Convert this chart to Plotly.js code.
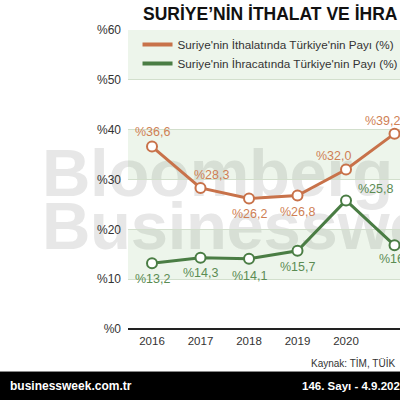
<!DOCTYPE html>
<html>
<head>
<meta charset="utf-8">
<script src="https://cdn.plot.ly/plotly-3.0.1.min.js"></script>
<style>
  html, body { margin:0; padding:0; background:#fff; overflow:hidden; }
  #wrap { position:relative; width:400px; height:400px; overflow:hidden; }
  .wm { position:absolute; left:42px; font-family:"Liberation Sans", Arial, sans-serif; font-weight:bold;
        font-size:67px; line-height:67px; color:#e7e7e7; white-space:nowrap; z-index:0; letter-spacing:-0.3px; }
  #chart { position:absolute; left:0; top:0; z-index:1; }
</style>
</head>
<body>
<div id="wrap">
  <div class="wm" style="top:139px;">Bloomberg</div>
  <div class="wm" style="top:192px;">Businessweek</div>
  <div id="chart"></div>
</div>
<script>
// ---- data ----
const years = [2016, 2017, 2018, 2019, 2020, 2021];
const importShare = [36.6, 28.3, 26.2, 26.8, 32.0, 39.2];
const exportShare = [13.2, 14.3, 14.1, 15.7, 25.8, 16.8];
const importName = "Suriye'nin İthalatında Türkiye'nin Payı (%)";
const exportName = "Suriye'nin İhracatında Türkiye'nin Payı (%)";
const yTicks = [0, 10, 20, 30, 40, 50, 60];
const yTickLabels = ['%0', '%10', '%20', '%30', '%40', '%50', '%60'];
const titleText = "SURİYE’NİN İTHALAT VE İHRA";
const sourceText = "Kaynak: TİM, TÜİK";
const footerLeft = "businessweek.com.tr";
const footerRight = "146. Sayı - 4.9.202";

// ---- style ----
const orange = '#c8724a', orangeText = '#cf7f55';
const green = '#4a7d44', greenText = '#5b8c53';
const fmt = v => '%' + v.toFixed(1).replace('.', ',');

// label offsets (style only)
const impOff = [[0,15],[11,13],[0,-16],[0,-17],[-13,14],[-12,13]];
const expOff = [[0,-16],[0,-15],[0,-17],[0,-16],[29,11],[2,-14]];

const annotations = [];
years.forEach((yr, i) => {
  annotations.push({x: yr, y: importShare[i], xref:'x', yref:'y', text: fmt(importShare[i]), showarrow:false,
    xshift: impOff[i][0], yshift: impOff[i][1], font:{size:12.5, color: orangeText, family:'Liberation Sans, Arial'}});
  annotations.push({x: yr, y: exportShare[i], xref:'x', yref:'y', text: fmt(exportShare[i]), showarrow:false,
    xshift: expOff[i][0], yshift: expOff[i][1], font:{size:12.5, color: greenText, family:'Liberation Sans, Arial'}});
});
// source + footer
annotations.push({xref:'paper', yref:'paper', x:(397-128)/272, y:(329-363)/299, xanchor:'right', yanchor:'middle',
  text: sourceText, showarrow:false, font:{size:10, color:'#333', family:'Liberation Sans, Arial'}});
annotations.push({xref:'paper', yref:'paper', x:(8-128)/272, y:(329-386)/299, xanchor:'left', yanchor:'middle',
  text: '<b>'+footerLeft+'</b>', showarrow:false, font:{size:12, color:'#fff', family:'Liberation Sans, Arial'}});
annotations.push({xref:'paper', yref:'paper', x:(300-128)/272, y:(329-386)/299, xanchor:'left', yanchor:'middle',
  text: '<b>'+footerRight+'</b>', showarrow:false, font:{size:11.5, color:'#fff', family:'Liberation Sans, Arial'}});

const bandFill = 'rgba(95,165,75,0.11)';
const shapes = [[50,60],[30,40],[10,20]].map(b => ({type:'rect', xref:'paper', yref:'y', x0:0, x1:1, y0:b[0], y1:b[1],
  fillcolor: bandFill, line:{width:0}, layer:'below'}));
shapes.push({type:'rect', xref:'paper', yref:'paper', x0:-1, x1:2, y0:-0.35, y1:(329-372)/299,
  fillcolor:'#000', line:{width:0}, layer:'above'});
shapes.push({type:'line', xref:'paper', yref:'paper', x0:-1, x1:2, y0:(329-371.5)/299, y1:(329-371.5)/299,
  line:{width:1, color:'#888'}, layer:'above'});

const traces = [
  {x: years, y: importShare, mode:'lines+markers', showlegend:false, cliponaxis:false,
   line:{color: orange, width:3}, marker:{size:10, color:'#fff', line:{color: orange, width:2}}},
  {x: years, y: exportShare, mode:'lines+markers', showlegend:false, cliponaxis:false,
   line:{color: green, width:3}, marker:{size:10, color:'#fff', line:{color: green, width:2}}},
  {x:[null], y:[null], mode:'lines', name: importName, line:{color: orange, width:4}},
  {x:[null], y:[null], mode:'lines', name: exportName, line:{color: green, width:4}}
];

const layout = {
  width:400, height:400,
  margin:{l:128, r:0, t:30, b:71, autoexpand:false},
  paper_bgcolor:'rgba(0,0,0,0)', plot_bgcolor:'rgba(0,0,0,0)',
  font:{family:'Liberation Sans, Arial, sans-serif', color:'#333'},
  title:{text:'<b>'+titleText+'</b>', x:143/400, xanchor:'left', xref:'container', y:1-14/400, yanchor:'middle', yref:'container',
    font:{size:17.5, color:'#111', family:'Liberation Sans, Arial'}},
  xaxis:{range:[2015.505, 2021.113], tickvals: years, ticktext: years.map(String), showgrid:false, zeroline:false,
    showline:false, ticks:'', tickfont:{size:11.5, color:'#333'}, ticklabelstandoff:3, fixedrange:true, automargin:false},
  yaxis:{range:[0,60], tickvals: yTicks, ticktext: yTickLabels, showgrid:true, gridcolor:'#d2dfcc', gridwidth:1,
    zeroline:true, zerolinecolor:'#222', zerolinewidth:1.5, showline:false, ticks:'', ticklabelstandoff:6,
    tickfont:{size:12, color:'#333'}, fixedrange:true, automargin:false},
  legend:{x:0.035, y:1, xanchor:'left', yanchor:'top', bgcolor:'rgba(0,0,0,0)', borderwidth:0,
    font:{size:11.7, color:'#333'}, tracegroupgap:0},
  shapes, annotations
};
Plotly.newPlot('chart', traces, layout, {staticPlot:true, displayModeBar:false});
</script>
</body>
</html>
